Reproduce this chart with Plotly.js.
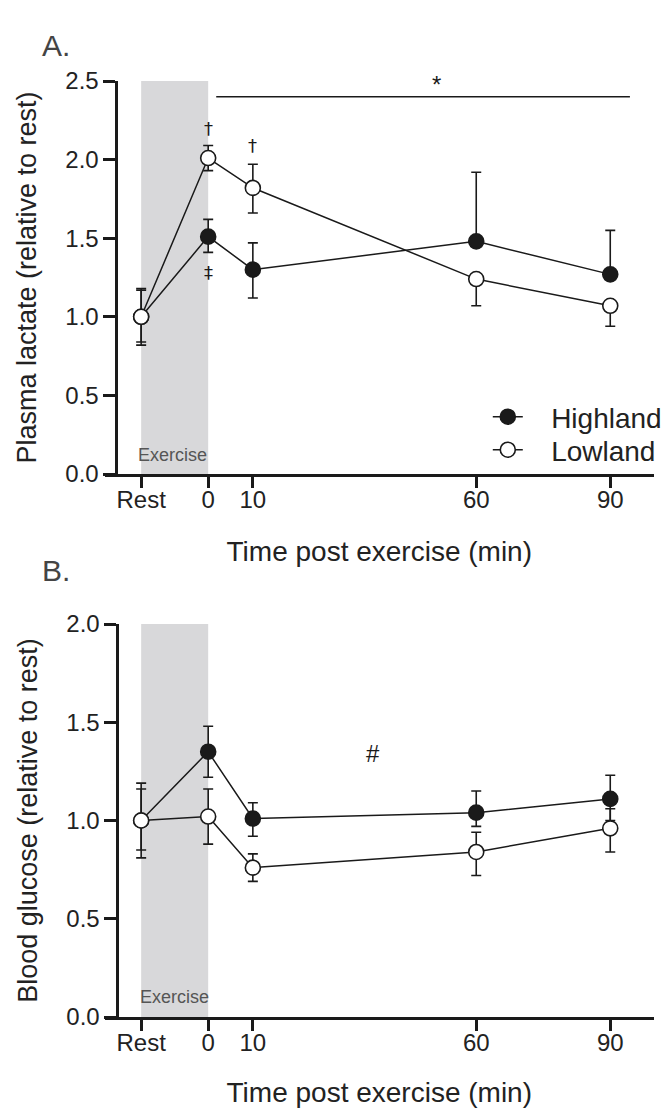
<!DOCTYPE html>
<html><head><meta charset="utf-8">
<script src="https://cdn.plot.ly/plotly-3.0.1.min.js"></script>
<style>html,body{margin:0;padding:0;background:#fff}#chart{width:667px;height:1108px}</style>
</head><body><div id="chart"></div>
<script>
// shared x categories (Rest placed before time 0)
const timePoints = [-15, 0, 10, 60, 90];
const tickLabels = ['Rest', '0', '10', '60', '90'];
const seriesNames = ['Highland', 'Lowland'];

// Panel A: plasma lactate (relative to rest)
const lactateHighland = [1.00, 1.51, 1.30, 1.48, 1.27];
const lactateHighlandErrUp = [0.18, 0.11, 0.17, 0.44, 0.28];
const lactateHighlandErrDown = [0.16, 0.10, 0.18, 0, 0];
const lactateLowland = [1.00, 2.01, 1.82, 1.24, 1.07];
const lactateLowlandErrUp = [0.17, 0.08, 0.15, 0, 0];
const lactateLowlandErrDown = [0.18, 0.08, 0.16, 0.17, 0.13];

// Panel B: blood glucose (relative to rest)
const glucoseHighland = [1.00, 1.35, 1.01, 1.04, 1.11];
const glucoseHighlandErrUp = [0.19, 0.13, 0.08, 0.11, 0.12];
const glucoseHighlandErrDown = [0.15, 0.13, 0.09, 0.07, 0.11];
const glucoseLowland = [1.00, 1.02, 0.76, 0.84, 0.96];
const glucoseLowlandErrUp = [0.16, 0.14, 0.07, 0.10, 0.10];
const glucoseLowlandErrDown = [0.19, 0.14, 0.07, 0.12, 0.12];

const INK = '#1a1a1a';
const FONT = 'Liberation Sans, Arial, sans-serif';
const SYM = 'DejaVu Sans, sans-serif';
const W = 667, H = 1108;
const px = v => v / W;
const py = v => 1 - v / H;
const GAP = '\u00A0\u00A0\u00A0';

function series(name, x, y, up, down, xa, ya, filled, legendId) {
  const t = {
    type: 'scatter', mode: 'lines+markers', name: legendId ? GAP + name : name,
    x: x, y: y, xaxis: xa, yaxis: ya, showlegend: !!legendId,
    line: {color: INK, width: 1.5},
    marker: {size: 15, color: filled ? INK : '#ffffff', line: {color: INK, width: 1.6}},
    error_y: {type: 'data', symmetric: false, array: up, arrayminus: down,
              color: INK, thickness: 1.6, width: 5}
  };
  if (legendId) t.legend = legendId;
  return t;
}

const data = [
  series(seriesNames[0], timePoints, lactateHighland, lactateHighlandErrUp, lactateHighlandErrDown, 'x', 'y', true, 'legend'),
  series(seriesNames[1], timePoints, lactateLowland, lactateLowlandErrUp, lactateLowlandErrDown, 'x', 'y', false, 'legend2'),
  series(seriesNames[0], timePoints, glucoseHighland, glucoseHighlandErrUp, glucoseHighlandErrDown, 'x2', 'y2', true, null),
  series(seriesNames[1], timePoints, glucoseLowland, glucoseLowlandErrUp, glucoseLowlandErrDown, 'x2', 'y2', false, null)
];

const xCommon = {
  range: [-23.2, 99.8], tickvals: timePoints, ticktext: tickLabels,
  showline: true, linewidth: 3, linecolor: INK, ticks: 'outside', ticklen: 11, tickwidth: 3, tickcolor: INK,
  ticklabelstandoff: -9,
  showgrid: false, zeroline: false, fixedrange: true,
  tickfont: {family: FONT, size: 24, color: '#222'},
  title: {text: 'Time post exercise (min)', font: {family: FONT, size: 28, color: '#222'}, standoff: 30}
};
const yCommon = {
  anchor: 'free', showline: true, linewidth: 3, linecolor: INK, ticks: 'outside', ticklen: 12, tickwidth: 3, tickcolor: INK,
  showgrid: false, zeroline: false, fixedrange: true, dtick: 0.5, tickformat: '.1f',
  tickfont: {family: FONT, size: 24, color: '#222'}
};

const legendCommon = {xanchor: 'left', yanchor: 'middle', bgcolor: 'rgba(0,0,0,0)', itemwidth: 30,
  font: {family: FONT, size: 28, color: '#222'}};

const layout = {
  width: W, height: H, margin: {l: 0, r: 0, t: 0, b: 0},
  paper_bgcolor: '#ffffff', plot_bgcolor: 'rgba(0,0,0,0)',
  font: {family: FONT, color: '#222'},
  xaxis: Object.assign({}, xCommon, {domain: [px(105), px(657)], anchor: 'y'}),
  yaxis: Object.assign({}, yCommon, {domain: [py(474), py(81)], range: [0, 2.5], position: px(117),
    title: {text: 'Plasma lactate (relative to rest)', font: {family: FONT, size: 27, color: '#222'}, standoff: 19}}),
  xaxis2: Object.assign({}, xCommon, {domain: [px(105), px(657)], anchor: 'y2'}),
  yaxis2: Object.assign({}, yCommon, {domain: [py(1017), py(624)], range: [0, 2.0], position: px(118),
    title: {text: 'Blood glucose (relative to rest)', font: {family: FONT, size: 27, color: '#222'}, standoff: 19}}),
  showlegend: true,
  legend: Object.assign({}, legendCommon, {x: px(490), y: py(417)}),
  legend2: Object.assign({}, legendCommon, {x: px(490), y: py(450)}),
  shapes: [
    {type: 'rect', xref: 'x', yref: 'y', x0: -15, x1: 0, y0: 0, y1: 2.5, fillcolor: '#d8d8da', line: {width: 0}, layer: 'below'},
    {type: 'rect', xref: 'x2', yref: 'y2', x0: -15, x1: 0, y0: 0, y1: 2.0, fillcolor: '#d8d8da', line: {width: 0}, layer: 'below'},
    {type: 'line', xref: 'x', yref: 'y', x0: 1.8, x1: 94.4, y0: 2.40, y1: 2.40, line: {color: INK, width: 1.6}}
  ],
  annotations: [
    {xref: 'paper', yref: 'paper', x: px(40), y: py(45), text: 'A.', showarrow: false, xanchor: 'left', yanchor: 'middle', font: {family: FONT, size: 30, color: '#444'}},
    {xref: 'paper', yref: 'paper', x: px(40), y: py(570), text: 'B.', showarrow: false, xanchor: 'left', yanchor: 'middle', font: {family: FONT, size: 30, color: '#444'}},
    {xref: 'x', yref: 'y', x: 51, y: 2.48, text: '*', showarrow: false, font: {family: FONT, size: 24, color: INK}},
    {xref: 'x', yref: 'y', x: 0, y: 2.2, text: '†', showarrow: false, font: {family: SYM, size: 18, color: INK}},
    {xref: 'x', yref: 'y', x: 10, y: 2.09, text: '†', showarrow: false, font: {family: SYM, size: 18, color: INK}},
    {xref: 'x', yref: 'y', x: 0, y: 1.285, text: '‡', showarrow: false, font: {family: SYM, size: 18, color: INK}},
    {xref: 'x', yref: 'y', x: -8, y: 0.12, text: 'Exercise', showarrow: false, font: {family: FONT, size: 18, color: '#555'}},
    {xref: 'x2', yref: 'y2', x: -7.5, y: 0.10, text: 'Exercise', showarrow: false, font: {family: FONT, size: 18, color: '#555'}},
    {xref: 'x2', yref: 'y2', x: 37, y: 1.34, text: '#', showarrow: false, font: {family: FONT, size: 24, color: INK}}
  ]
};

Plotly.newPlot('chart', data, layout, {staticPlot: true, displayModeBar: false});
</script>
</body></html>
